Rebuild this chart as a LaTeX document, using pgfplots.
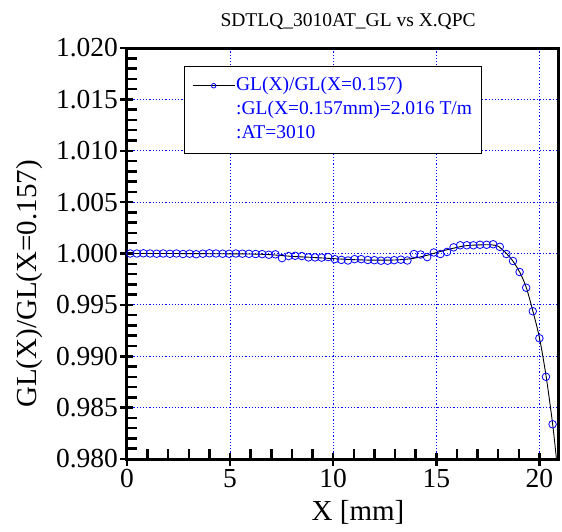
\documentclass[border=0pt]{standalone}
\usepackage{fontspec}
\setmainfont{Liberation Serif}
\usepackage{pgfplots}
\pgfplotsset{compat=1.18}
\begin{document}
\begin{tikzpicture}
\useasboundingbox (-127pt,-72pt) rectangle (435pt,459pt);
\begin{axis}[
  name=ax, scale only axis, width=431pt, height=411pt,
  xmin=0, xmax=20.9, ymin=0.980, ymax=1.020,
  xtick={0,5,10,15,20},
  xticklabels={0,5,10,15,20},
  ytick={0.980,0.985,0.990,0.995,1.000,1.005,1.010,1.015,1.020},
  yticklabels={0.980,0.985,0.990,0.995,1.000,1.005,1.010,1.015,1.020},
  minor x tick num=4, minor y tick num=4,
  xtick pos=left, ytick pos=left,
  tick align=center, major tick length=13pt, minor tick length=10pt,
  minor x tick style={yshift=5pt}, minor y tick style={xshift=5pt},
  tick style={black, line width=2.5pt},
  axis line style={line width=3pt},
  grid=major,
  major grid style={blue, line width=0.8pt, dash pattern=on 1.2pt off 2pt},
  ticklabel style={font=\fontsize{27.5}{29}\selectfont},
  yticklabel style={xshift=1pt},
  xlabel={X [mm]}, ylabel={GL(X)/GL(X=0.157)},
  every axis x label/.style={at={(axis description cs:0.536,0)}, yshift=-53pt, anchor=center, font=\fontsize{29}{30}\selectfont},
  every axis y label/.style={at={(axis description cs:0,0.426)}, xshift=-97pt, rotate=90, anchor=center, font=\fontsize{29}{30}\selectfont},
  title={SDTLQ\_3010AT\_GL vs X.QPC},
  every axis title/.style={at={(axis description cs:0.513,1)}, yshift=26pt, anchor=center, font=\fontsize{19.5}{20}\selectfont},
  legend cell align=left,
  legend image code/.code={\draw[#1, mark repeat=2, mark phase=2] plot coordinates {(0pt,0pt) (21pt,0pt) (42pt,0pt)};},
  legend style={at={(rel axis cs:0.132,0.956)}, anchor=north west, draw=black, line width=0.8pt,
    fill=white, inner xsep=8pt, inner ysep=9pt, row sep=3.5pt,
    font=\fontsize{19.5}{24}\selectfont, text=blue,
    nodes={inner sep=1pt, text height=14pt, text depth=4.5pt}},
]
% smoothed fit
\addplot[black, line width=0.9pt, smooth, tension=0.5, forget plot] coordinates {
  (0.0,1.00000) (2.0,1.00000) (4.0,0.99998) (6.0,0.99995) (7.0,0.99988)
  (8.0,0.99972) (9.0,0.99962) (10.0,0.99950) (11.0,0.99940) (12.0,0.99935)
  (13.0,0.99937) (13.8,0.99950) (14.5,0.99980) (15.2,1.00020) (15.8,1.00050)
  (16.4,1.00075) (17.0,1.00083) (17.6,1.00085) (18.0,1.00070) (18.4,1.00000)
  (18.7,0.99930) (19.04,0.99820) (19.36,0.99670) (19.68,0.99440) (20.0,0.99180)
  (20.32,0.98810) (20.64,0.98340) (20.85,0.97950)
};
% measured points
\addplot[only marks, mark=o, blue, mark size=3.8pt, mark options={line width=0.8pt}, forget plot] coordinates {
  (0.157,1.00000) (0.477,1.00000) (0.797,1.00002) (1.117,1.00000) (1.437,0.99998)
  (1.757,1.00000) (2.077,0.99997) (2.397,1.00000) (2.717,0.99995) (3.037,0.99998)
  (3.357,0.99993) (3.677,0.99998) (3.997,1.00002) (4.317,1.00000) (4.637,0.99998)
  (4.957,0.99997) (5.277,1.00000) (5.597,0.99998) (5.917,0.99997) (6.237,0.99995)
  (6.557,0.99994) (6.877,0.99988) (7.197,0.99992) (7.517,0.99955) (7.837,0.99975)
  (8.157,0.99978) (8.477,0.99975) (8.797,0.99962) (9.117,0.99962) (9.437,0.99960)
  (9.757,0.99965) (10.077,0.99945) (10.397,0.99938) (10.717,0.99932) (11.037,0.99945)
  (11.357,0.99945) (11.677,0.99937) (11.997,0.99935) (12.317,0.99930) (12.637,0.99930)
  (12.957,0.99935) (13.277,0.99940) (13.597,0.99932) (13.917,0.99995) (14.237,0.99990)
  (14.557,0.99965) (14.877,1.00010) (15.197,0.99995) (15.517,1.00015) (15.837,1.00060)
  (16.157,1.00080) (16.477,1.00080) (16.797,1.00080) (17.117,1.00085) (17.437,1.00085)
  (17.757,1.00090) (18.077,1.00065) (18.397,0.99995) (18.717,0.99927) (19.037,0.99820)
  (19.357,0.99667) (19.677,0.99438) (19.997,0.99175) (20.317,0.98800) (20.637,0.98338)
};
\addlegendimage{black, line width=0.8pt, mark=o, mark options={blue, mark size=2.3pt}}
\addlegendentry{GL(X)/GL(X=0.157)}
\addlegendimage{empty legend}
\addlegendentry{:GL(X=0.157mm)=2.016 T/m}
\addlegendimage{empty legend}
\addlegendentry{:AT=3010}
\end{axis}
\end{tikzpicture}
\end{document}
